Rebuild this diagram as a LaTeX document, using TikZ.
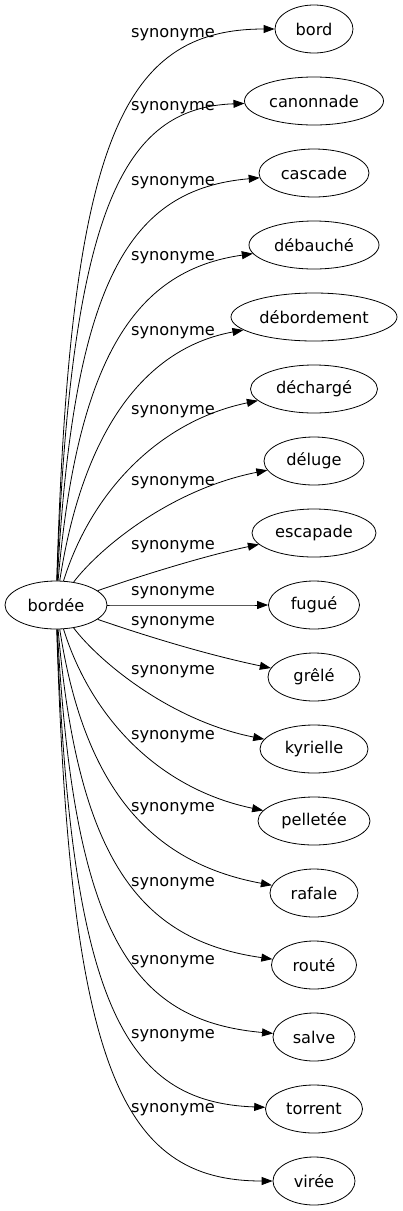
\documentclass[tikz,border=0pt]{standalone}
\usepackage{fontspec}
\setmainfont{DejaVu Sans}
\usetikzlibrary{shapes.geometric,arrows.meta}

\tikzset{
  mot/.style={draw, ellipse, inner sep=0pt, minimum height=48pt, line width=0.8pt},
  lien/.style={-{Triangle[length=11pt,width=8pt]}, line width=0.8pt},
  etiquette/.style={inner sep=0pt},
}

\begin{document}
\begin{tikzpicture}[x=1pt, y=-1pt, font=\fontsize{16.2}{19}\selectfont]
  % Rahmen
  \useasboundingbox (0,0) rectangle (402,1211);

  % Ausgangswort
  \node[mot, minimum width=102pt] (bordee) at (56,605) {bordée};

  % Synonyme: Name/Wort/Breite/Hoehe der Beschriftung
  \foreach \nom/\wort/\larg/\ety [count=\i from 0] in {
      bord/bord/78/35,
      canonnade/canonnade/139/108,
      cascade/cascade/110/183,
      debauche/débauché/130/258,
      debordement/débordement/166/333,
      decharge/déchargé/127/412,
      deluge/déluge/100/483,
      escapade/escapade/124/547,
      fugue/fugué/91/593,
      grele/grêlé/92/623,
      kyrielle/kyrielle/108/672,
      pelletee/pelletée/112/737,
      rafale/rafale/88/809,
      route/routé/85/884,
      salve/salve/82/962,
      torrent/torrent/97/1036,
      viree/virée/82/1110}{
    \pgfmathsetmacro{\ty}{29+72*\i}
    \pgfmathsetmacro{\hub}{605-\ty}
    \pgfmathsetmacro{\rest}{1-abs(\hub)/576}
    % Kontrollpunkte (fast gerade fuer die mittleren Kanten)
    \pgfmathsetmacro{\ax}{abs(\hub)<100 ? 150 : 70+55*\rest^2}
    \pgfmathsetmacro{\ay}{abs(\hub)<100 ? \ty+0.55*\hub : \ty+(0.2+0.7*\rest^2)*\hub}
    \pgfmathsetmacro{\bx}{abs(\hub)<100 ? 210 : 120+80*\rest^1.5}
    \pgfmathsetmacro{\by}{abs(\hub)<100 ? \ty+0.3*\hub : \ty+0.3*\rest^1.5*\hub}
    \node[mot, minimum width=\larg pt] (\nom) at (314,\ty) {\wort};
    \node[etiquette] (e\i) at (173,\ety) {synonyme};
    \draw[lien] (bordee) .. controls (\ax,\ay) and (\bx,\by) .. (\nom);
  }
\end{tikzpicture}
\end{document}
